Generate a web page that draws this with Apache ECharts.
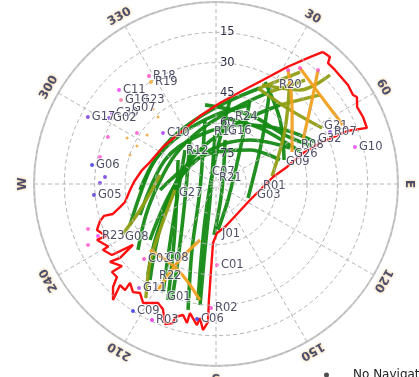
<!DOCTYPE html>
<html>
<head>
<meta charset="utf-8">
<script src="https://cdn.jsdelivr.net/npm/echarts@6/dist/echarts.min.js"></script>
<style>
  html, body { margin: 0; padding: 0; background: #ffffff; }
  #chart { width: 419px; height: 377px; }
</style>
</head>
<body>
<div id="chart"></div>
<script>
// Elevation rings (degrees above horizon) and compass labels
const elevationTicks = [15, 30, 45, 60, 75];
const azimuthNames = ['N', '30', '60', 'E', '120', '150', 'S', '210', '240', 'W', '300', '330'];
const azimuthAngles = [0, 30, 60, 90, 120, 150, 180, 210, 240, 270, 300, 330];

// Horizon obstruction outline, [elevation, azimuth]
const maskOutline = [
  [6.0, 39.0], [5.6, 41.9], [8.5, 42.8], [8.5, 46.2], [8.4, 53.1], [9.2, 57.0], [8.1, 58.3],
  [10.5, 61.4], [10.1, 65.5], [10.4, 69.6], [20.1, 68.0], [34.7, 68.5], [44.3, 70.4],
  [53.9, 76.5], [61.6, 83.0], [66.7, 93.7], [71.4, 115.2], [72.0, 142.8], [68.3, 168.2],
  [65.8, 178.8], [60.8, 182.9], [47.4, 183.3], [32.5, 183.5], [21.7, 183.3], [17.5, 185.1],
  [23.2, 186.8], [19.6, 187.7], [24.9, 191.4], [19.8, 191.8], [23.2, 194.1], [21.2, 197.1],
  [18.0, 197.2], [16.3, 200.0], [22.8, 203.0], [24.5, 206.0], [21.0, 211.5], [24.3, 214.9],
  [22.6, 217.5], [25.2, 221.0], [20.9, 220.6], [21.1, 223.5], [13.3, 221.6], [18.0, 225.0],
  [22.8, 226.8], [22.6, 229.8], [28.3, 228.9], [24.9, 233.7], [30.1, 232.4], [39.1, 233.7],
  [27.7, 235.7], [25.3, 239.7], [28.4, 239.9], [25.0, 244.8], [29.8, 244.7], [26.9, 248.9],
  [29.8, 252.3], [32.4, 254.1], [36.9, 253.8], [41.2, 256.5], [44.1, 258.8], [47.4, 266.0],
  [49.4, 271.4], [52.8, 280.7], [55.6, 288.4], [58.0, 304.9], [59.1, 318.9], [58.4, 333.0],
  [55.4, 346.8], [49.9, 2.8], [43.0, 14.6], [33.6, 24.3], [22.3, 31.3], [11.9, 36.5], [6.0, 39.0]
];

// Satellite tracks, [elevation, azimuth], grouped by tracking quality
const greenTracks = [
  [[37.2, 30.4], [51.3, 14.0], [62.2, 343.5], [65.2, 305.3], [61.3, 269.0], [52.1, 246.1], [39.5, 229.8]],
  [[39.7, 39.0], [57.1, 21.2], [70.0, 344.2], [71.7, 284.0], [61.7, 243.0], [45.5, 222.7], [32.4, 214.5]],
  [[49.4, 247.8], [62.1, 295.2], [64.5, 341.9], [57.5, 26.2], [46.7, 51.9], [36.8, 67.0]],
  [[47.2, 229.7], [69.7, 268.6], [72.9, 350.0], [62.5, 37.7], [49.3, 64.1]],
  [[62.2, 263.9], [74.7, 339.2], [66.2, 45.0], [56.2, 69.4]],
  [[64.7, 329.4], [72.7, 242.7], [48.0, 206.6], [28.6, 200.8]],
  [[57.9, 350.2], [81.5, 249.4], [55.3, 200.0], [26.2, 192.5]],
  [[67.8, 11.6], [85.8, 135.0], [64.8, 182.2]],
  [[45.2, 22.0], [69.4, 35.2], [80.1, 143.1], [67.3, 177.5]],
  [[35.6, 29.4], [58.5, 46.3], [72.7, 113.6]],
  [[67.3, 317.6], [58.5, 223.7], [30.5, 206.1]],
  [[47.9, 9.5], [78.1, 357.6], [71.4, 197.0], [31.9, 188.8]],
  [[57.1, 7.8], [54.8, 38.2], [48.7, 62.2], [45.5, 69.1]],
  [[50.5, 352.1], [52.0, 26.2], [48.2, 54.6], [39.0, 68.4]],
  [[34.0, 25.7], [45.2, 45.0], [54.3, 70.6]],
  [[70.2, 328.3], [65.9, 250.8], [49.1, 227.4], [33.8, 216.8]],
  [[47.5, 23.3], [55.9, 359.2], [59.9, 323.7], [57.6, 291.5], [52.3, 265.5]],
  [[37.8, 24.6], [49.7, 6.3], [56.7, 341.8], [58.5, 313.7], [57.0, 286.5], [52.0, 261.8], [42.9, 244.5]],
  [[67.8, 302.3], [59.5, 221.7], [27.9, 202.5]],
  [[65.8, 358.8], [81.5, 200.6], [56.9, 189.5], [29.6, 187.5]]
];
const oliveTracks = [
  [[22.3, 40.6], [37.2, 30.4]],
  [[22.3, 49.4], [39.7, 39.0]],
  [[20.8, 36.9], [37.8, 24.6]],
  [[24.9, 34.2], [46.7, 51.9], [62.0, 81.9]],
  [[36.0, 24.9], [27.6, 41.8], [12.0, 46.3]],
  [[38.2, 23.6], [38.2, 45.0], [30.7, 62.2]],
  [[62.0, 279.1], [50.3, 251.1], [37.1, 241.5]],
  [[69.5, 261.7], [54.2, 230.6], [39.5, 220.2], [23.8, 211.6]]
];
const orangeTracks = [
  [[19.2, 35.9], [22.3, 49.4], [20.8, 65.1]],
  [[14.3, 41.8], [26.9, 48.8], [41.8, 63.2]],
  [[23.3, 32.3], [37.5, 45.8], [49.2, 67.2]],
  [[43.9, 225.0], [43.5, 203.8], [32.1, 187.9]],
  [[61.2, 195.9], [47.1, 206.0], [30.3, 208.7]]
];

// Short low-quality fixes
const orangeFixes = [[41.6, 320.0], [46.2, 319.1], [40.5, 297.3], [48.2, 305.4], [46.6, 295.7], [45.1, 288.6]];
const pinkFixes = [[31.7, 293.5], [31.1, 283.1], [43.5, 302.8], [22.9, 250.6], [19.9, 244.5],
  [23.3, 32.3], [19.2, 35.9], [14.3, 41.8]];
const purpleFixes = [[32.6, 270.5], [35.0, 273.6]];

// Satellite identifiers and their current positions
const satNames = ['R18', 'R19', 'C11', 'G18', 'G23', 'C30', 'G07', 'G17', 'G02', 'C10', 'G06', 'G05',
  'R23', 'G08', 'C03', 'C08', 'R22', 'G11', 'G01', 'C09', 'R03', 'C06', 'R02', 'C01', 'J01',
  'G03', 'R01', 'G09', 'G26', 'R08', 'G32', 'G21', 'R07', 'G10', 'R20', 'R24', 'R11', 'G16',
  'R12', 'C07', 'R21', 'G27'];
const satElevation = [27.1, 30.2, 23.2, 27.3, 33.0, 27.7, 32.5, 18.5, 27.8, 53.6, 28.0, 29.4,
  26.2, 36.2, 38.6, 44.7, 35.4, 26.0, 28.3, 15.0, 15.7, 22.6, 28.6, 49.9, 65.3,
  70.9, 68.7, 55.6, 50.5, 45.5, 36.7, 31.1, 28.0, 18.9, 33.0, 56.0, 64.1, 63.5,
  66.6, 82.9, 87.0, 69.2];
const satAzimuth = [328.2, 327.5, 314.1, 311.5, 316.8, 304.3, 310.8, 297.6, 301.7, 313.9, 278.7, 264.8,
  246.2, 240.8, 223.8, 216.1, 213.5, 216.5, 205.1, 213.2, 205.2, 188.0, 182.3, 179.3, 177.7,
  106.6, 92.7, 71.6, 67.9, 64.3, 65.3, 60.9, 65.5, 75.1, 30.8, 12.6, 353.4, 8.6,
  314.1, 326.3, 350.5, 257.6];

// ---- styling ----
const FONT = 'DejaVu Sans';
const dotColor = {
  R18: '#ff40c0', R19: '#f0a020', C11: '#ff30ff', G17: '#7a2be2', G06: '#3030e0', C10: '#b030f0',
  G05: '#4a30d0', R23: '#ff40ff', C03: '#ff40c0', C09: '#2a2af0', R03: '#e020e0', C06: '#2a2af0',
  R02: '#ff40c0', C01: '#ff60d0', G10: '#e040f0', R07: '#8040f0', G11: '#a040e0', G18: '#ff70a0',
  C30: '#a030f0', G02: '#8040e0'
};

function trackSeries(list, color, width, z) {
  return list.map(pts => ({
    type: 'line', coordinateSystem: 'polar', polarIndex: 0,
    data: pts, smooth: 0.35, showSymbol: false, symbol: 'none',
    lineStyle: { color: color, width: width, opacity: 0.95 },
    silent: true, z: z, animation: false
  }));
}

function fixSeries(pts, color, size) {
  return {
    type: 'scatter', coordinateSystem: 'polar', polarIndex: 0,
    data: pts, symbolSize: size, itemStyle: { color: color },
    silent: true, z: 6, animation: false
  };
}

const series = [].concat(
  trackSeries(greenTracks, '#158a15', 3.6, 3),
  trackSeries(oliveTracks, '#909e14', 3.4, 4),
  trackSeries(orangeTracks, '#f0a020', 3.2, 4),
  [
    fixSeries(orangeFixes, '#e8a030', 3),
    fixSeries(pinkFixes, '#ff50d0', 4),
    fixSeries(purpleFixes, '#6a30e0', 4),
    {
      type: 'line', coordinateSystem: 'polar', polarIndex: 0,
      data: maskOutline, showSymbol: false, symbol: 'none', smooth: false,
      lineStyle: { color: '#ff1010', width: 2.4 }, z: 10, silent: true, animation: false
    },
    {
      type: 'scatter', coordinateSystem: 'polar', polarIndex: 0,
      data: satNames.map((n, i) => ({
        name: n,
        value: [satElevation[i], satAzimuth[i]],
        itemStyle: { color: dotColor[n] || 'rgba(0,0,0,0)' }
      })),
      symbolSize: 4, z: 12, silent: true, animation: false,
      label: {
        show: true, position: 'right', distance: 2, formatter: '{b}',
        fontFamily: FONT, fontSize: 11.5, color: '#22223f',
        textBorderColor: 'rgba(255,255,255,0.85)', textBorderWidth: 2
      }
    },
    {
      type: 'scatter', coordinateSystem: 'polar', polarIndex: 1,
      data: azimuthAngles.map((a, i) => ({
        name: azimuthNames[i], value: [1, a],
        label: { rotate: -a }
      })),
      symbolSize: 0, z: 12, silent: true, animation: false,
      label: {
        show: true, position: 'inside', formatter: '{b}',
        fontFamily: FONT, fontSize: 12, fontWeight: 'bold', color: '#1e2a5e',
        textShadowColor: '#eaa640', textShadowBlur: 3
      }
    },
    {
      name: 'No Navigation', type: 'scatter', coordinateSystem: 'polar', polarIndex: 0,
      data: [], itemStyle: { color: '#222222' }
    }
  ]
);

const chart = echarts.init(document.getElementById('chart'), null, { renderer: 'canvas' });
chart.setOption({
  animation: false,
  backgroundColor: '#ffffff',
  legend: {
    data: [{ name: 'No Navigation', itemStyle: { color: '#222222' } }],
    left: 319, top: 364, icon: 'circle',
    itemWidth: 5, itemHeight: 5, selectedMode: false,
    textStyle: { fontFamily: FONT, fontSize: 12, color: '#222222', padding: [0, 0, 0, 19] }
  },
  polar: [
    { center: [216, 184], radius: 182 },
    { center: [216, 184], radius: 193 }
  ],
  angleAxis: [
    {
      polarIndex: 0, type: 'value', min: 0, max: 360, interval: 30,
      startAngle: 90, clockwise: true, z: 8,
      axisLine: { show: true, lineStyle: { color: '#c9c9c9', width: 2 } },
      axisTick: { show: false }, axisLabel: { show: false },
      splitLine: { show: true, lineStyle: { color: '#b4b4b4', width: 1, type: [4, 3] } }
    },
    {
      polarIndex: 1, type: 'value', min: 0, max: 360, startAngle: 90, clockwise: true, show: false
    }
  ],
  radiusAxis: [
    {
      polarIndex: 0, type: 'value', min: 0, max: 90, interval: 15, inverse: true, z: 11,
      axisLine: { show: false }, axisTick: { show: false },
      axisLabel: {
        show: true, fontFamily: FONT, fontSize: 11.5, color: '#30304a',
        margin: -4, align: 'left', verticalAlign: 'middle',
        textBorderColor: 'rgba(255,255,255,0.6)', textBorderWidth: 1,
        formatter: v => (elevationTicks.indexOf(v) >= 0 ? String(v) : '')
      },
      splitLine: { show: true, lineStyle: { color: '#b4b4b4', width: 1, type: [4, 3] } }
    },
    { polarIndex: 1, type: 'value', min: 0, max: 1, show: false }
  ],
  series: series
});
</script>
</body>
</html>
